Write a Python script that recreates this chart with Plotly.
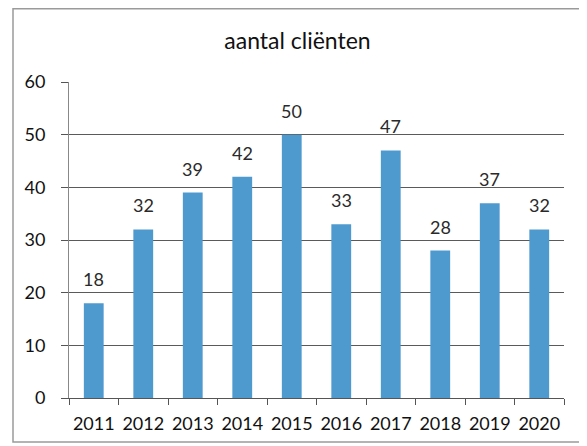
import plotly.graph_objects as go

years = ["2011", "2012", "2013", "2014", "2015", "2016", "2017", "2018", "2019", "2020"]
clients = [18, 32, 39, 42, 50, 33, 47, 28, 37, 32]
y_ticks = [0, 10, 20, 30, 40, 50, 60]

# the page body adds an 8px margin, so the figure is laid out 8px smaller
OFF = 8
W, H = 587 - OFF, 446 - OFF
L, R, T, B = 69 - OFF, 564 - OFF, 82 - OFF, 398 - OFF

fig = go.Figure(go.Bar(
    x=years, y=clients, width=0.4,
    marker=dict(color="#4E9ACF", line=dict(width=0)),
    cliponaxis=False,
))

# category index positions for the value labels
for i, v in enumerate(clients):
    fig.add_annotation(x=i, y=v, text=str(v), showarrow=False, yanchor="bottom", yshift=11,
                       font=dict(family="Lato", size=18, color="#2a2a2a"))

pw, ph = R - L, B - T
fig.add_shape(type="rect", xref="paper", yref="paper",
              x0=(13 - OFF - L) / pw, x1=(583 - OFF - L) / pw,
              y0=(B - (442 - OFF)) / ph, y1=(B - 0.8) / ph,
              line=dict(color="#9a9a9a", width=1.5), layer="below")

fig.update_layout(
    width=W, height=H,
    margin=dict(l=L, r=W - R, t=T, b=H - B),
    paper_bgcolor="white", plot_bgcolor="white",
    title=dict(text="aantal cliënten", x=0.5, xanchor="center", y=1 - (41 - OFF) / H, yanchor="middle",
               font=dict(family="Lato", size=23, color="#111111")),
    showlegend=False,
    font=dict(family="Lato", size=18, color="#111111"),
    bargap=0.6,
)
fig.update_xaxes(type="category", range=[-0.5, len(years) - 0.5], autorange=False,
                 showline=True, linecolor="#555555", linewidth=1,
                 ticks="outside", tickson="boundaries", ticklen=6, tickcolor="#555555",
                 tickangle=0, tickfont=dict(family="Lato", size=18, color="#111111"),
                 ticklabelstandoff=9, showgrid=False)
fig.update_yaxes(range=[0, 60], tickvals=y_ticks, showline=True, linecolor="#888888", linewidth=1,
                 ticks="outside", ticklen=7, tickcolor="#555555",
                 gridcolor="#5a5a5a", gridwidth=1, zeroline=False,
                 tickfont=dict(family="Lato", size=18, color="#111111"), ticklabelstandoff=12)

fig.write_html("out.html")
